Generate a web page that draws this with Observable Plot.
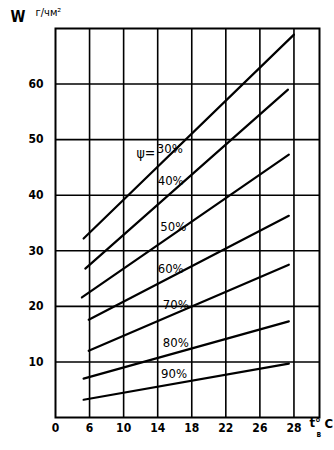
<!DOCTYPE html>
<html><head><meta charset="utf-8">
<script src="https://cdn.jsdelivr.net/npm/d3@7"></script>
<script src="https://cdn.jsdelivr.net/npm/@observablehq/plot@0.6"></script>
<style>body{margin:0;background:#fff}</style>
</head><body><div id="chart"></div>
<script>
// x tick positions (temperature) and their printed labels
const xTicks = [2, 6, 10, 14, 18, 22, 26, 30];
const xTickLabels = ["0", "6", "10", "14", "18", "22", "26", "28"];
const yTicks = [10, 20, 30, 40, 50, 60];
// relative humidity series
const series = ["30%", "40%", "50%", "60%", "70%", "80%", "90%"];
const tStart = [5.3, 5.5, 5.1, 5.9, 5.9, 5.3, 5.3];
const wStart = [32.2, 26.8, 21.6, 17.6, 12.0, 7.0, 3.2];
const tEnd = [30.0, 29.3, 29.4, 29.4, 29.4, 29.4, 29.4];
const wEnd = [68.9, 59.0, 47.3, 36.3, 27.5, 17.3, 9.7];
// label anchor points
const labelT = [13.9, 14.0, 14.3, 14.0, 14.6, 14.6, 14.4];
const labelW = [48.4, 42.6, 34.4, 26.8, 20.3, 13.5, 7.9];

const lines = [];
series.forEach((s, i) => {
  lines.push({s, t: tStart[i], w: wStart[i]});
  lines.push({s, t: tEnd[i], w: wEnd[i]});
});
const labels = series.map((s, i) => ({s, t: labelT[i], w: labelW[i]}));

const font = "DejaVu Sans Condensed, DejaVu Sans, sans-serif";
const chart = Plot.plot({
  width: 334, height: 450,
  marginLeft: 55, marginRight: 15, marginTop: 28, marginBottom: 33,
  style: {fontFamily: font, background: "#fff", color: "#000"},
  x: {domain: [2, 33]},
  y: {domain: [0, 70]},
  marks: [
    Plot.gridX([6, 10, 14, 18, 22, 26, 30], {stroke: "#000", strokeOpacity: 1, strokeWidth: 1.6}),
    Plot.gridY(yTicks, {stroke: "#000", strokeOpacity: 1, strokeWidth: 1.6}),
    Plot.frame({stroke: "#000", strokeWidth: 2}),
    Plot.axisX(xTicks, {tickSize: 0, tickPadding: 6, tickFormat: (d) => xTickLabels[xTicks.indexOf(d)], fontSize: 12, fontWeight: "bold", label: null}),
    Plot.axisY(yTicks, {tickSize: 0, tickPadding: 12, fontSize: 12, fontWeight: "bold", label: null}),
    Plot.line(lines, {x: "t", y: "w", z: "s", stroke: "#000", strokeWidth: 2.2}),
    Plot.text(labels, {x: "t", y: "w", text: "s", textAnchor: "start", fontSize: 13, fill: "#000"}),
    Plot.text(["ψ="], {x: 11.5, y: 47.5, textAnchor: "start", fontSize: 14, fill: "#000"}),
    Plot.text(["W"], {frameAnchor: "top-left", dx: -45, dy: -17, fontSize: 15, fontWeight: "bold", textAnchor: "start", lineAnchor: "top"}),
    Plot.text(["г/чм²"], {frameAnchor: "top-left", dx: -20, dy: -20, fontSize: 11, textAnchor: "start", lineAnchor: "top"}),
    Plot.text(["t°"], {frameAnchor: "bottom-right", dx: -10, dy: 9, fontSize: 13, fontWeight: "bold", textAnchor: "start"}),
    Plot.text(["в"], {frameAnchor: "bottom-right", dx: -3, dy: 19, fontSize: 8, fontWeight: "bold", textAnchor: "start"}),
    Plot.text(["C"], {frameAnchor: "bottom-right", dx: 5, dy: 10, fontSize: 13, fontWeight: "bold", textAnchor: "start"})
  ]
});
document.getElementById("chart").appendChild(chart);
</script>
</body></html>
